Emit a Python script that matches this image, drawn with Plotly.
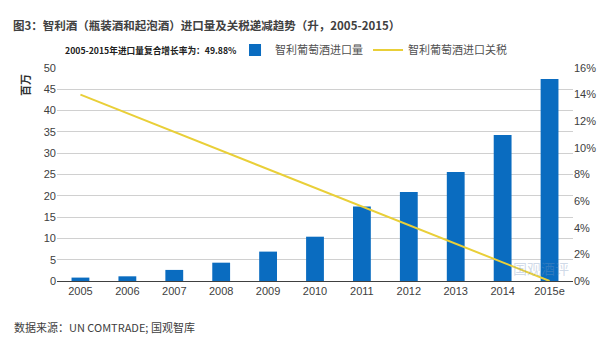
import plotly.graph_objects as go

years = ["2005", "2006", "2007", "2008", "2009", "2010", "2011", "2012", "2013", "2014", "2015e"]
import_volume = [0.8, 1.1, 2.6, 4.3, 6.9, 10.4, 17.5, 20.9, 25.6, 34.3, 47.4]  # million litres
import_tariff = [0.14, 0.126, 0.112, 0.098, 0.084, 0.070, 0.056, 0.042, 0.028, 0.014, 0.0]

FONT = "Liberation Sans, Arial, Noto Sans CJK SC, sans-serif"
CJK = "Noto Sans CJK SC, Liberation Sans, sans-serif"
BLUE = "#0A6CC0"
YELLOW = "#E9CF38"

fig = go.Figure()
fig.add_trace(go.Bar(
    x=years, y=import_volume, name="智利葡萄酒进口量",
    marker=dict(color=BLUE, line=dict(width=0)), yaxis="y",
))
fig.add_trace(go.Scatter(
    x=years, y=import_tariff, name="智利葡萄酒进口关税", mode="lines",
    line=dict(color=YELLOW, width=2), yaxis="y2",
))

fig.update_layout(
    width=615, height=348,
    margin=dict(l=57, r=42, t=68, b=67),
    paper_bgcolor="white", plot_bgcolor="white",
    font=dict(family=FONT, size=11, color="#404040"),
    bargap=0.62,
    showlegend=True,
    legend=dict(
        orientation="h", x=0.345, xref="paper", y=1 + 18 / 213, yanchor="middle",
        xanchor="left", font=dict(family=CJK, size=11, color="#505050"),
        itemwidth=30, tracegroupgap=0, bgcolor="rgba(0,0,0,0)",
    ),
    xaxis=dict(
        type="category", showgrid=False, ticks="", showline=True,
        linecolor="#404040", linewidth=1,
        tickfont=dict(family=FONT, size=11, color="#404040"),
    ),
    yaxis=dict(
        range=[0, 50], dtick=5, showgrid=True, gridcolor="#D0D0D0", gridwidth=1,
        zeroline=False, showline=False, ticks="",
        tickfont=dict(family=FONT, size=11, color="#404040"),
    ),
    yaxis2=dict(
        range=[0, 0.16], dtick=0.02, tickformat=".0%", overlaying="y", side="right",
        showgrid=False, zeroline=False, showline=False, ticks="",
        tickfont=dict(family=FONT, size=11, color="#404040"),
    ),
    annotations=[
        dict(text="<b>图3：智利酒（瓶装酒和起泡酒）进口量及关税递减趋势（升，2005-2015）</b>",
             xref="paper", yref="paper", x=-46 / 516, y=1 + 43 / 213, xanchor="left", yanchor="middle",
             showarrow=False, font=dict(family=CJK, size=11.5, color="#404040")),
        dict(text="<b>2005-2015年进口量复合增长率为：49.88%</b>",
             xref="paper", yref="paper", x=6 / 516, y=1 + 18 / 213, xanchor="left", yanchor="middle",
             showarrow=False, font=dict(family=CJK, size=8.7, color="#202020")),
        dict(text="<b>百万</b>", textangle=-90,
             xref="paper", yref="paper", x=-32 / 516, y=1 - 17 / 213, xanchor="center", yanchor="middle",
             showarrow=False, font=dict(family=CJK, size=11, color="#303030")),
        dict(text="数据来源：UN COMTRADE; 国观智库",
             xref="paper", yref="paper", x=-45 / 516, y=-46 / 213, xanchor="left", yanchor="middle",
             showarrow=False, font=dict(family=CJK, size=11, color="#404040")),
        dict(text="国观酒评",
             xref="paper", yref="paper", x=484 / 516, y=13 / 213, xanchor="center", yanchor="middle",
             showarrow=False, font=dict(family=CJK, size=14, color="rgba(120,150,190,0.35)")),
    ],
)

fig.write_html("out.html")
